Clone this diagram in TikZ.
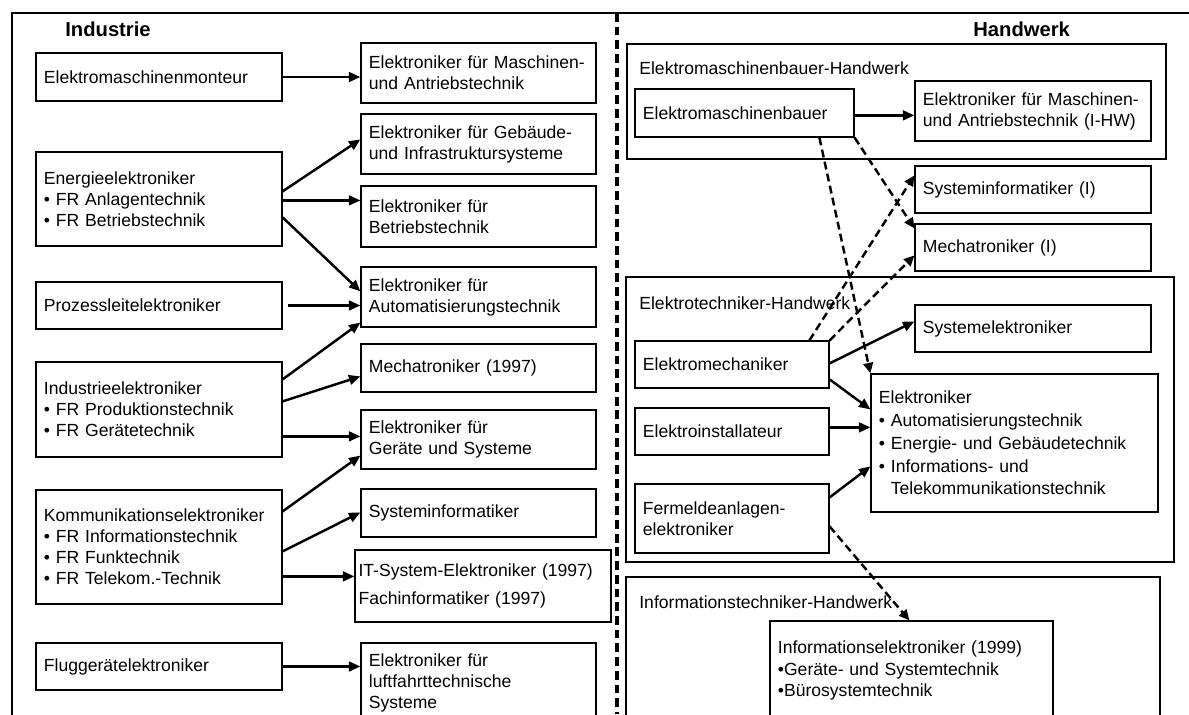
\documentclass[tikz,border=0pt]{standalone}
\usepackage{fontspec}
\setmainfont{Liberation Sans}
\usetikzlibrary{arrows.meta,calc}
\hyphenpenalty=10000
\exhyphenpenalty=10000

\begin{document}
\begin{tikzpicture}[x=0.02cm, y=-0.02cm,
		kasten/.style={draw=black, line width=0.7pt, rectangle, align=left,
			inner xsep=4.5pt, inner ysep=2pt, font=\fontsize{10}{12}\selectfont},
		gruppe/.style={draw=black, line width=0.7pt},
		gtitel/.style={anchor=west, inner sep=0pt, font=\fontsize{10}{12}\selectfont},
		titel/.style={anchor=base west, inner sep=0pt, font=\fontsize{11.5}{13}\selectfont\bfseries},
		pfeil/.style={line width=1.4pt, -{Triangle[length=6.5pt,width=5.5pt]}},
		strich/.style={line width=1.4pt, dash pattern=on 4.5pt off 2.5pt,
			-{Triangle[length=6pt,width=5.5pt]}},
		trenner/.style={line width=2pt, dash pattern=on 5pt off 2.8pt},
		rahmen/.style={line width=1.6pt},
		]
		
		%% Kasten: [optionen]{name}{x1}{y1}{x2}{y2}{text}
		\newcommand{\kasten}[7][]{%
			\pgfmathsetlengthmacro{\kbreite}{(#5-#3)*0.02cm}%
			\pgfmathsetlengthmacro{\khoehe}{(#6-#4)*0.02cm}%
			\pgfmathsetlengthmacro{\ktext}{(#5-#3)*0.02cm-9pt}%
			\node[kasten, minimum width=\kbreite, minimum height=\khoehe,
			text width=\ktext, #1](#2)at({(#3+#5)/2},{(#4+#6)/2}){#7};}
		
		\useasboundingbox (0,0) rectangle (1189,714);
		\clip (0,0) rectangle (1189,714);
		
		%% Rahmen und Trennlinie -----------------------------
		\draw[rahmen](12,740)--(12,13)--(1200,13);
		\draw[trenner](617,13)--(617,714);
		\node[titel](industrie)at(65,36){Industrie};
		\node[titel](handwerk)at(973,36){Handwerk};
		
		%% =========================================================
		%% INDUSTRIE
		%% =========================================================
		\kasten{B1}{36}{53}{282}{101}{Elektromaschinenmonteur}
		\kasten{B2}{36}{152}{282}{246}{Energieelektroniker\\
			\textbullet{} FR Anlagentechnik\\\textbullet{} FR Betriebstechnik}
		\kasten{B3}{36}{282}{282}{329}{Prozessleitelektroniker}
		\kasten{B4}{36}{362}{282}{457}{Industrieelektroniker\\
			\textbullet{} FR Produktionstechnik\\\textbullet{} FR Gerätetechnik}
		\kasten{B5}{36}{490}{282}{604}{Kommunikationselektroniker\\
			\textbullet{} FR Informationstechnik\\\textbullet{} FR Funktechnik\\
			\textbullet{} FR Telekom.-Technik}
		\kasten{B6}{36}{643}{282}{690}{Fluggerätelektroniker}
		
		\kasten{M1}{361}{43}{596}{103}{Elektroniker für Maschinen-\\und Antriebstechnik}
		\kasten{M2}{361}{114}{596}{174}{Elektroniker für Gebäude-\\und Infrastruktursysteme}
		\kasten{M3}{361}{186}{596}{247}{Elektroniker für\\Betriebstechnik}
		\kasten{M4}{361}{267}{596}{327}{Elektroniker für\\Automatisierungstechnik}
		\kasten{M5}{361}{344}{596}{392}{Mechatroniker (1997)}
		\kasten{M6}{361}{410}{596}{469}{Elektroniker für\\Geräte und Systeme}
		\kasten{M7}{361}{489}{596}{537}{Systeminformatiker}
		\kasten[inner xsep=2pt, text width=4.98cm]{M8}{355}{550}{611}{622}{%
			IT-System-Elektroniker (1997)\\[4pt]Fachinformatiker (1997)}
		\kasten{M9}{361}{643}{596}{723}{Elektroniker für\\luftfahrttechnische\\Systeme}
		
		%% Pfeile links
		\draw[pfeil](B1.east)--(B1.east -| M1.west);
		\draw[pfeil]($(B2.north east)+(0,40)$)--($(M2.north west)+(0,26)$);
		\draw[pfeil]($(B2.north east)+(0,49)$)--($(M3.north west)+(0,15)$);
		\draw[pfeil]($(B2.north east)+(0,66)$)--($(M4.north west)+(0,25)$);
		\draw[pfeil]($(B3.east)+(5,0)$)--(B3.east -| M4.west);
		\draw[pfeil]($(B4.north east)+(0,18)$)--($(M4.south west)+(0,-5)$);
		\draw[pfeil]($(B4.north east)+(0,40)$)--($(M5.north west)+(0,33)$);
		\draw[pfeil]($(B4.north east)+(0,75)$)--($(M6.north west)+(0,27)$);
		\draw[pfeil]($(B5.north east)+(0,22)$)--($(M6.south west)+(0,-14)$);
		\draw[pfeil]($(B5.north east)+(0,62)$)--($(M7.north west)+(0,24)$);
		\draw[pfeil]($(B5.north east)+(0,87)$)--($(M8.north west)+(0,27)$);
		\draw[pfeil](B6.east)--(B6.east -| M9.west);
		
		%% =========================================================
		%% HANDWERK
		%% =========================================================
		\draw[gruppe](627,44)rectangle(1166,159);
		\node[gtitel](g1)at(639,68){Elektromaschinenbauer-Handwerk};
		\draw[gruppe](626,277)rectangle(1174,562);
		\node[gtitel](g2)at(639,303){Elektrotechniker-Handwerk};
		\draw[gruppe](626,577)rectangle(1160,760);
		\node[gtitel](g3)at(639,602){Informationstechniker-Handwerk};
		
		\kasten{R1}{635}{89}{854}{137}{Elektromaschinenbauer}
		\kasten{R2}{915}{81}{1151}{141}{Elektroniker für Maschinen-\\und Antriebstechnik (I-HW)}
		\kasten{R3}{915}{166}{1151}{213}{Systeminformatiker (I)}
		\kasten{R4}{915}{224}{1151}{271}{Mechatroniker (I)}
		\kasten{R5}{635}{341}{829}{388}{Elektromechaniker}
		\kasten{R6}{635}{408}{829}{455}{Elektroinstallateur}
		\kasten{R7}{635}{484}{829}{553}{Fermeldeanlagen-\\elektroniker}
		\kasten{R8}{915}{305}{1151}{352}{Systemelektroniker}
		\kasten[font=\fontsize{10}{13}\selectfont]{R9}{871}{374}{1158}{512}{Elektroniker\\
			\textbullet{} Automatisierungstechnik\\\textbullet{} Energie- und Gebäudetechnik\\
			\textbullet{} Informations- und\\\hphantom{\textbullet{} }Telekommunikationstechnik}
		\kasten{R10}{770}{621}{1053}{720}{Informationselektroniker (1999)\\
			\textbullet Geräte- und Systemtechnik\\\textbullet Bürosystemtechnik}
		
		%% Pfeile rechts
		\draw[pfeil]($(R1.north east)+(0,27)$)--($(R2.north west)+(0,35)$);
		\draw[pfeil]($(R5.north east)+(0,23)$)--($(R8.north west)+(0,17)$);
		\draw[pfeil]($(R5.north east)+(0,39)$)--($(R9.north west)+(0,36)$);
		\draw[pfeil]($(R6.north east)+(0,20)$)--($(R9.north west)+(0,54)$);
		\draw[pfeil]($(R7.north east)+(0,14)$)--($(R9.north west)+(0,93)$);
		%% gestrichelte Pfeile
		\draw[strich]($(R1.south west)+(185,0)$)--(R9.north west);
		\draw[strich](R1.south east)--($(R4.north west)+(0,5)$);
		\draw[strich]($(R5.north west)+(175,0)$)--($(R3.north west)+(0,10)$);
		\draw[strich](R5.north east)--($(R4.north west)+(0,32)$);
		\draw[strich]($(R7.north east)+(0,43)$)--($(R10.north west)+(140,0)$);
		
\end{tikzpicture}
\end{document}
